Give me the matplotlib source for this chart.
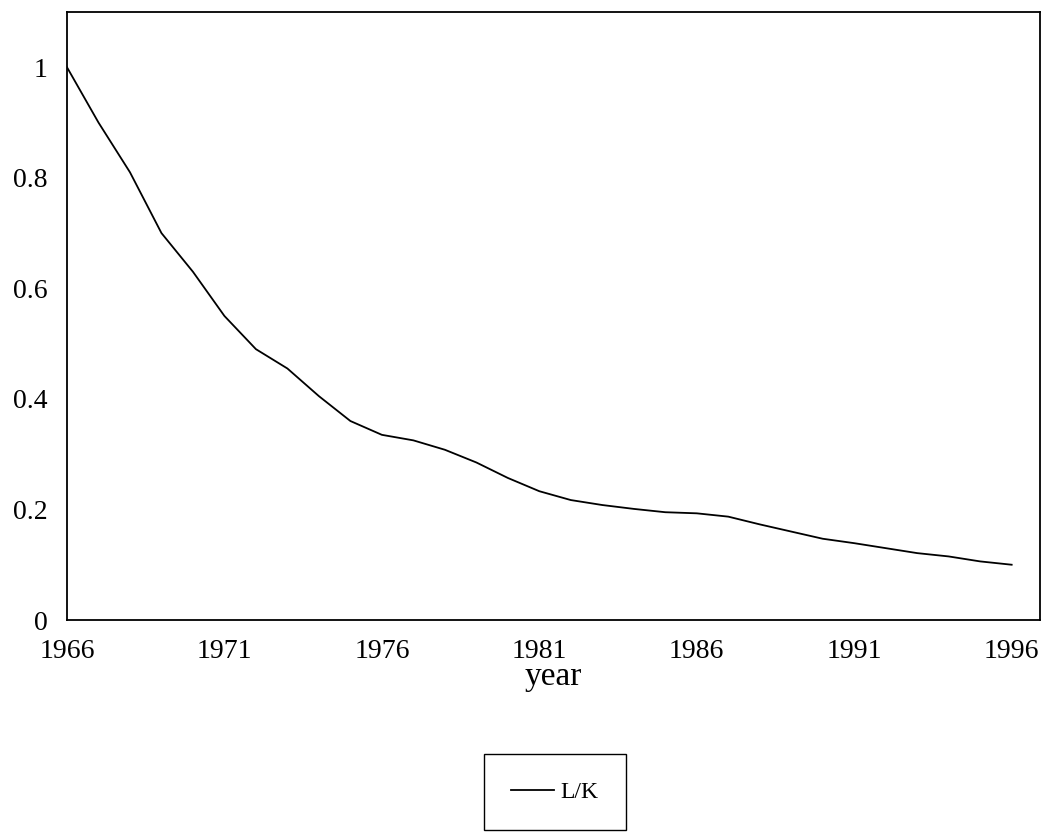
import matplotlib
matplotlib.use("Agg")
import matplotlib.pyplot as plt

plt.rcParams['font.family'] = ['Liberation Serif', 'DejaVu Serif']

years = list(range(1966, 1997))
lk = [1.0, 0.90, 0.81, 0.70, 0.63, 0.55, 0.49, 0.455, 0.405, 0.36, 0.335,
      0.325, 0.308, 0.285, 0.257, 0.233, 0.217, 0.208, 0.201, 0.195, 0.193,
      0.187, 0.173, 0.16, 0.147, 0.139, 0.13, 0.121, 0.115, 0.106, 0.1]

fig = plt.figure(figsize=(10.44, 8.39), dpi=100)
ax = fig.add_axes([67/1044, 1 - 620/839, (1040-67)/1044, (620-12)/839])
line, = ax.plot(years, lk, color='black', lw=1.3, label='L/K')
ax.set_xlim(1966, 1996.9)
ax.set_ylim(0, 1.1)
ax.set_xticks(range(1966, 1997, 5))
ax.set_yticks([0, 0.2, 0.4, 0.6, 0.8, 1])
ax.set_yticklabels(['0', '0.2', '0.4', '0.6', '0.8', '1'])
ax.tick_params(length=0, labelsize=20, pad=14)
for s in ax.spines.values():
    s.set_linewidth(1.3)
ax.set_xlabel('year', fontsize=24, labelpad=-2)
fig.legend(handles=[line], loc='center', bbox_to_anchor=(555/1044, 1 - 792/839),
           fancybox=False, edgecolor='black', framealpha=1, fontsize=17,
           handlelength=1.8, handletextpad=0.3, borderpad=1.15, borderaxespad=0)
fig.savefig('out.png', dpi=100)
